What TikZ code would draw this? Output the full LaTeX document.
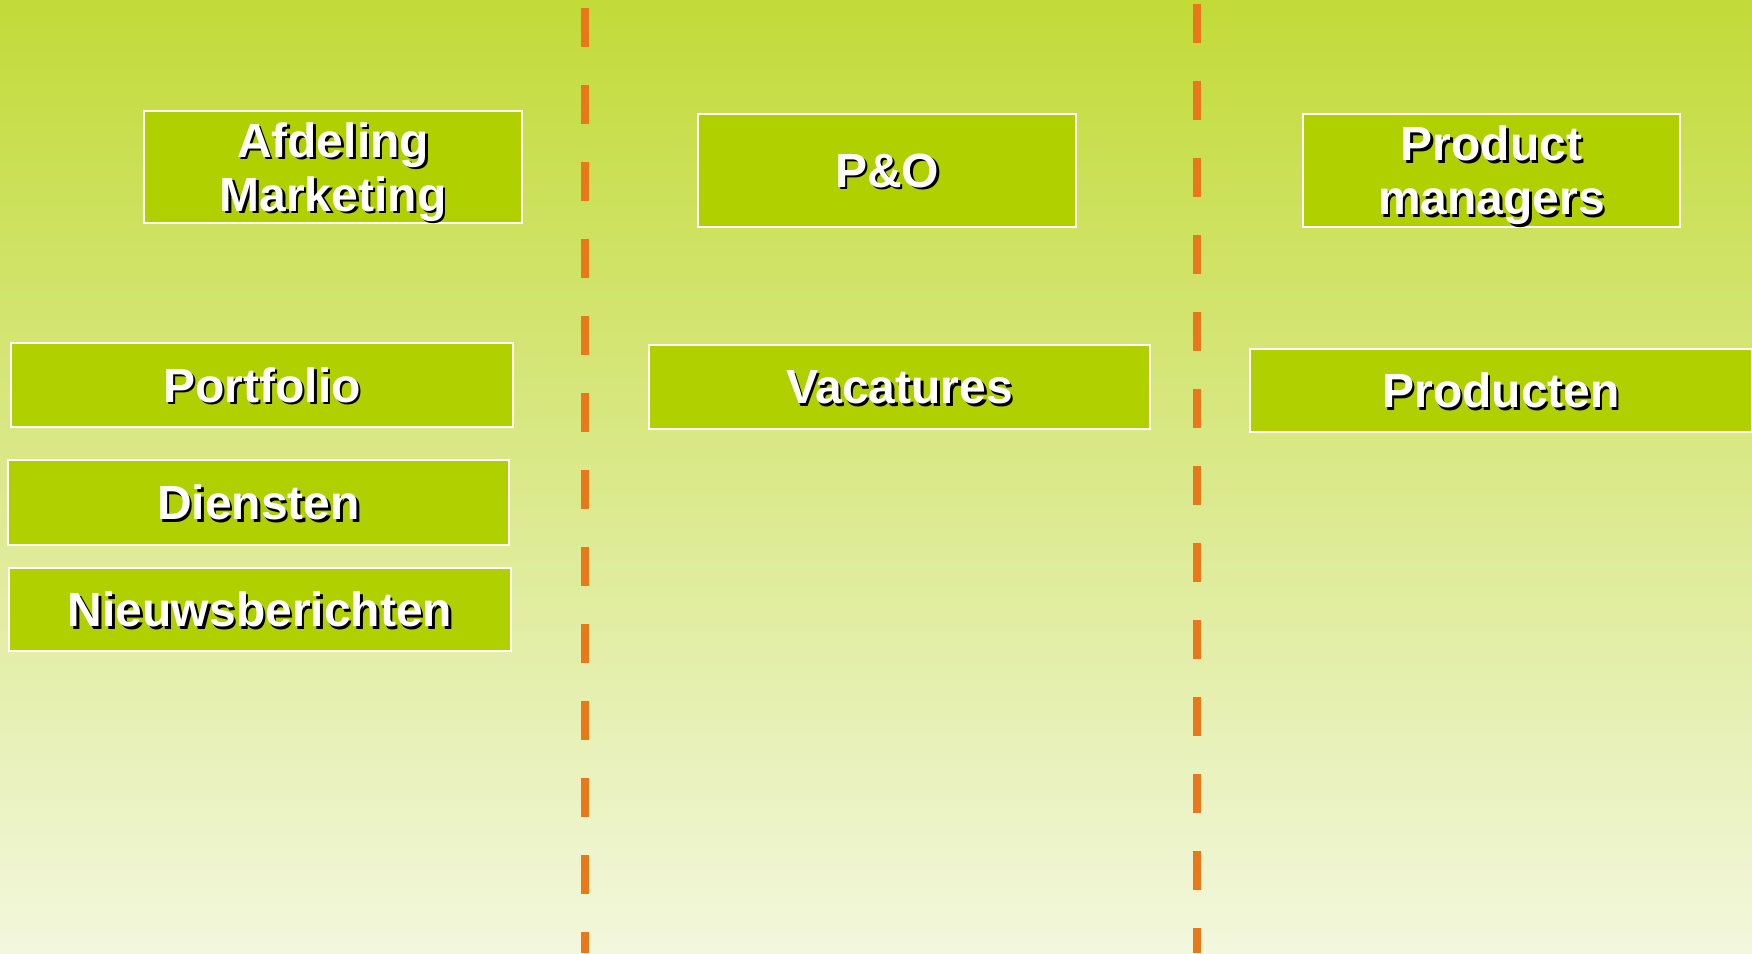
\documentclass[tikz,border=0pt]{standalone}
\usepackage{fontspec}
\setmainfont{Liberation Sans}
\usepackage{tikz}

\definecolor{achtergrondboven}{RGB}{194,219,56}
\definecolor{achtergrondonder}{RGB}{243,247,221}
\definecolor{blokgroen}{RGB}{176,208,0}
\definecolor{streeporanje}{RGB}{232,120,26}

\tikzset{
    blok/.style={draw=white, line width=2pt, fill=blokgroen, inner sep=0pt},
    bloktekst/.style={text=white, font=\bfseries\fontsize{48}{54}\selectfont, align=center, inner sep=0pt, text depth=0pt},
    schaduw/.style={bloktekst, text=black},
    scheiding/.style={draw=streeporanje, line width=8pt, dash pattern=on 39pt off 38pt},
}

\begin{document}
\begin{tikzpicture}[x=1pt, y=-1pt]
    \useasboundingbox (0,0) rectangle (1752,953);
    \shade[top color=achtergrondboven, bottom color=achtergrondonder] (0,0) rectangle (1752,953);

    \coordinate (links boven) at (584.5,8);
    \coordinate (links onder) at (584.5,953);
    \coordinate (rechts boven) at (1197,4);
    \coordinate (rechts onder) at (1197,953);
    \draw[scheiding] (links boven) -- (links onder);
    \draw[scheiding] (rechts boven) -- (rechts onder);

    \foreach \naam/\x/\y/\b/\h/\tekst in {
        afdeling/333/167/378/112/{Afdeling\\Marketing},
        peno/887/170.5/378/113/{P\&O},
        managers/1491.5/170.5/377/113/{Product\\managers},
        portfolio/262/385/502/84/{Portfolio},
        diensten/258.5/502.5/501/85/{Diensten},
        nieuws/260/609.5/502/83/{Nieuwsberichten},
        vacatures/899.5/387/501/84/{Vacatures},
        producten/1501/390.5/502/83/{Producten}%
    }{
        \node[blok, minimum width=\b, minimum height=\h] (\naam) at (\x,\y) {};
        \node[schaduw] at ([shift={(2.5,2.5)}]\naam.center) {\tekst};
        \node[bloktekst] at (\naam.center) {\tekst};
    }
\end{tikzpicture}
\end{document}
